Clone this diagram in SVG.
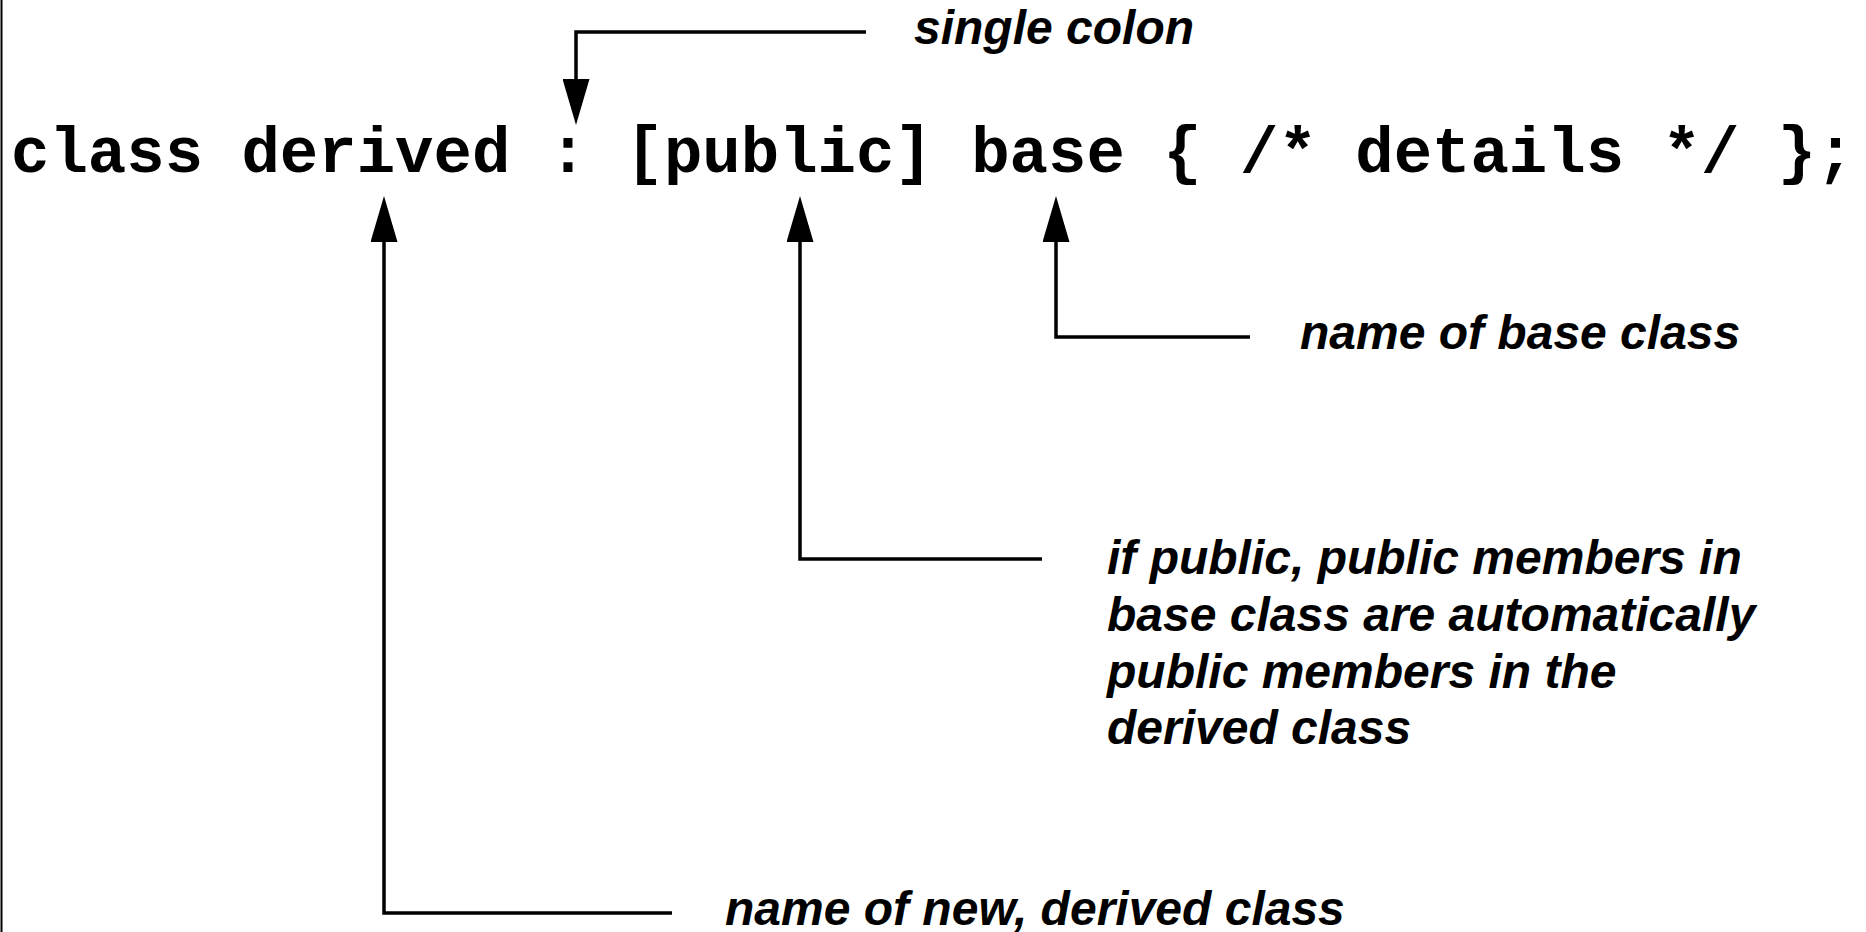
<svg xmlns="http://www.w3.org/2000/svg" width="1866" height="932" viewBox="0 0 1866 932">
<style>
.code{font-family:"Liberation Mono","Courier New",monospace;font-weight:bold;font-size:64px;fill:#000}
.lbl{font-family:"Liberation Sans",Arial,sans-serif;font-weight:bold;font-style:italic;font-size:48px;fill:#000}
.conn{fill:none;stroke:#000;stroke-width:3.5}
</style>
<defs>
<marker id="ah" viewBox="0 0 46 27" refX="0" refY="13.5" markerWidth="46" markerHeight="27" markerUnits="userSpaceOnUse" orient="auto">
<path d="M0,0 L46,13.5 L0,27 Z" fill="#000"/>
</marker>
</defs>
<rect width="1866" height="932" fill="#fff"/>
<line x1="1.5" y1="0" x2="1.5" y2="932" stroke="#000" stroke-width="2"/>
<g id="code-line">
<text class="code" x="11" y="172">class derived : [public] base { /* details */ };</text>
</g>
<g id="label-colon"><text class="lbl" x="914" y="44">single colon</text></g>
<g id="label-base"><text class="lbl" x="1300" y="349">name of base class</text></g>
<g id="label-public">
<text class="lbl" x="1107" y="574">if public, public members in</text>
<text class="lbl" x="1107" y="631">base class are automatically</text>
<text class="lbl" x="1107" y="688">public members in the</text>
<text class="lbl" x="1107" y="744">derived class</text>
</g>
<g id="label-derived"><text class="lbl" x="725" y="925">name of new, derived class</text></g>
<g id="connectors">
<path class="conn" d="M866,32 H576 V79" marker-end="url(#ah)"/>
<path class="conn" d="M1250,337 H1056 V242" marker-end="url(#ah)"/>
<path class="conn" d="M1042,559 H800 V242" marker-end="url(#ah)"/>
<path class="conn" d="M672,913 H384 V242" marker-end="url(#ah)"/>
</g>
</svg>
